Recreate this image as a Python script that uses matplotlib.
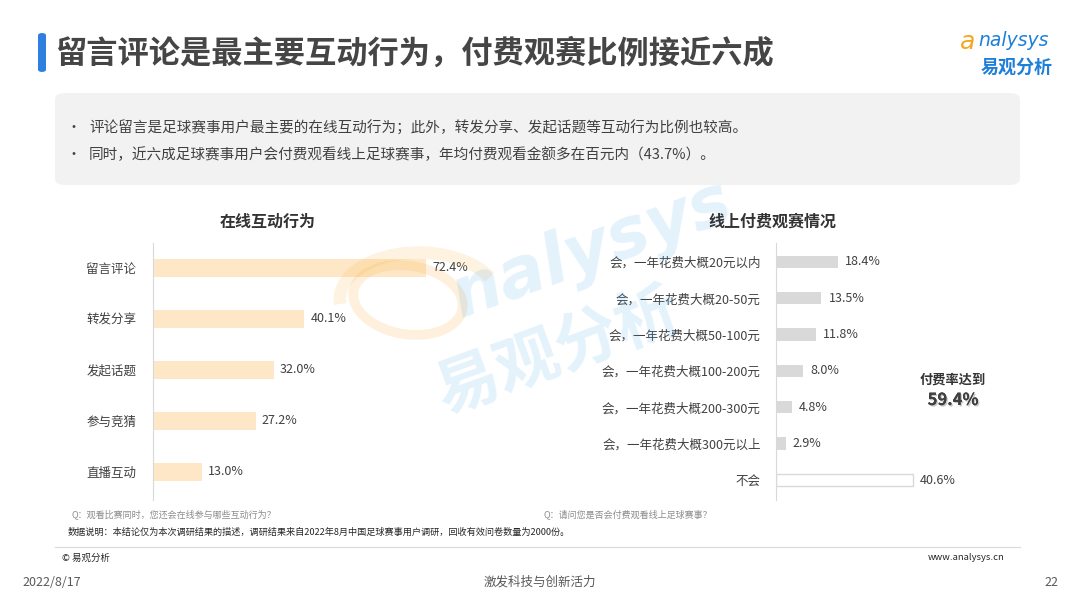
import matplotlib
matplotlib.use("Agg")
import matplotlib.pyplot as plt
from matplotlib.patches import FancyBboxPatch, Ellipse, Arc
import matplotlib.patheffects as pe

plt.rcParams['font.family'] = ['Noto Sans CJK SC', 'DejaVu Sans']

# ---------------- data ----------------
left_title = '在线互动行为'
left_cats = ['留言评论', '转发分享', '发起话题', '参与竞猜', '直播互动']
left_vals = [72.4, 40.1, 32.0, 27.2, 13.0]

right_title = '线上付费观赛情况'
right_cats = ['会，一年花费大概20元以内', '会，一年花费大概20-50元', '会，一年花费大概50-100元',
              '会，一年花费大概100-200元', '会，一年花费大概200-300元', '会，一年花费大概300元以上', '不会']
right_vals = [18.4, 13.5, 11.8, 8.0, 4.8, 2.9, 40.6]

title = '留言评论是最主要互动行为，付费观赛比例接近六成'
bullets = ['评论留言是足球赛事用户最主要的在线互动行为；此外，转发分享、发起话题等互动行为比例也较高。',
           '同时，近六成足球赛事用户会付费观看线上足球赛事，年均付费观看金额多在百元内（43.7%）。']
pay_rate_label = '付费率达到'
pay_rate = '59.4%'
q_left = 'Q：观看比赛同时，您还会在线参与哪些互动行为？'
q_right = 'Q：请问您是否会付费观看线上足球赛事？'
note = '数据说明：本结论仅为本次调研结果的描述，调研结果来自2022年8月中国足球赛事用户调研，回收有效问卷数量为2000份。'
footer_date = '2022/8/17'
footer_mid = '激发科技与创新活力'
footer_page = '22'

# ---------------- figure ----------------
W, H = 1080, 608
fig = plt.figure(figsize=(W / 100, H / 100), dpi=100)
fig.patch.set_facecolor('white')

def fx(x):
    return x / W

def fy(y):
    return 1 - y / H

def ftext(x, y, s, **kw):
    return fig.text(fx(x), fy(y), s, **kw)

# watermark (behind)
wm = dict(color='#4aa8e8', alpha=0.15, rotation=20, ha='center', va='center',
          fontweight='bold', zorder=0)
ftext(592, 250, 'nalysys', fontsize=50, family=['DejaVu Sans'], style='italic', **wm)
ftext(558, 352, '易观分析', fontsize=46, **wm)
ell = Ellipse((fx(408), fy(300)), width=fx(105), height=fy(0) - fy(72), angle=25,
              transform=fig.transFigure, fill=False, edgecolor='#fbb040', lw=7, alpha=0.18, zorder=0)
fig.patches.append(ell)
arc = Arc((fx(420), fy(300)), width=fx(160), height=fy(0) - fy(95), angle=10, theta1=20, theta2=175,
          transform=fig.transFigure, edgecolor='#fbb040', lw=9, alpha=0.16, zorder=0)
fig.patches.append(arc)

# title bar
bar = FancyBboxPatch((fx(38), fy(72)), fx(8), fy(33) - fy(72),
                     boxstyle='round,pad=0,rounding_size=0.004', transform=fig.transFigure,
                     facecolor='#2f7fe0', edgecolor='none')
fig.patches.append(bar)
ftext(55, 54, title, fontsize=22.5, fontweight='bold', color='#454545', va='center', ha='left')

# logo
ftext(968, 42, 'a', fontsize=18, color='#f5a623', family=['DejaVu Sans'], style='italic',
      va='center', ha='center')
ftext(978, 41, 'nalysys', fontsize=13.5, color='#1f7fd8', family=['DejaVu Sans'], style='italic',
      va='center', ha='left')
ftext(1017, 67, '易观分析', fontsize=13, color='#1f7fd8', fontweight='bold', va='center', ha='center')

# summary box
box = FancyBboxPatch((fx(55), fy(185)), fx(965), fy(93) - fy(185),
                     boxstyle='round,pad=0,rounding_size=0.01', transform=fig.transFigure,
                     facecolor='#f2f2f2', edgecolor='none')
fig.patches.append(box)
for i, b in enumerate(bullets):
    yy = 128 + i * 27
    ftext(66, yy, '•', fontsize=10, color='#404040', va='center', ha='left')
    ftext(89, yy, b, fontsize=10.5, color='#404040', va='center', ha='left')

# ---------------- left chart ----------------
axL = fig.add_axes([fx(153), fy(500), 80 * 3.77 / W, 257 / H])
axL.set_facecolor('none')
posL = list(range(len(left_cats)))
axL.barh(posL, left_vals, height=0.35, color='#fde7c7', edgecolor='none')
axL.set_xlim(0, 80)
axL.set_ylim(4.55, -0.49)
axL.set_yticks(posL)
axL.set_yticklabels(left_cats, fontsize=9, color='#404040')
axL.tick_params(axis='y', length=0, pad=12)
axL.set_xticks([])
for s in ['top', 'right', 'bottom']:
    axL.spines[s].set_visible(False)
axL.spines['left'].set_color('#d9d9d9')
for p, v in zip(posL, left_vals):
    axL.annotate(f'{v:.1f}%', (v, p), xytext=(4.5, 0), textcoords='offset points',
                 va='center', ha='left', fontsize=9, color='#404040')
ftext(268, 222, left_title, fontsize=11.5, fontweight='bold', color='#333333', ha='center', va='center')

# ---------------- right chart ----------------
axR = fig.add_axes([fx(776), fy(500), 60 * 3.37 / W, 257 / H])
axR.set_facecolor('none')
posR = list(range(len(right_cats)))
colorsR = ['#d9d9d9'] * (len(right_cats) - 1) + ['white']
edgesR = ['none'] * (len(right_cats) - 1) + ['#d9d9d9']
axR.barh(posR, right_vals, height=0.34, color=colorsR, edgecolor=edgesR, linewidth=1)
axR.set_xlim(0, 60)
axR.set_ylim(6.55, -0.52)
axR.set_yticks(posR)
axR.set_yticklabels(right_cats, fontsize=9, color='#404040')
axR.tick_params(axis='y', length=0, pad=11)
axR.set_xticks([])
for s in ['top', 'right', 'bottom']:
    axR.spines[s].set_visible(False)
axR.spines['left'].set_color('#d9d9d9')
for p, v in zip(posR, right_vals):
    axR.annotate(f'{v:.1f}%', (v, p), xytext=(5, 0), textcoords='offset points',
                 va='center', ha='left', fontsize=9, color='#404040')
ftext(772, 222, right_title, fontsize=11.5, fontweight='bold', color='#333333', ha='center', va='center')

ftext(953, 380, pay_rate_label, fontsize=9.5, fontweight='bold', color='#333333', ha='center', va='center')
ftext(953, 400, pay_rate, fontsize=12, fontweight='bold', color='#404040', ha='center', va='center',
      path_effects=[pe.withSimplePatchShadow(offset=(1, -1), shadow_rgbFace='#bbbbbb', alpha=0.8), pe.Normal()])

# ---------------- footnotes ----------------
ftext(72, 514, q_left, fontsize=6.5, color='#8c8c8c', style='italic', ha='left', va='center')
ftext(543, 514, q_right, fontsize=6.5, color='#8c8c8c', style='italic', ha='left', va='center')
ftext(68, 532, note, fontsize=6.6, color='#262626', ha='left', va='center')
fig.add_artist(plt.Line2D([fx(55), fx(1020)], [fy(547), fy(547)], color='#d9d9d9', lw=0.8,
                          transform=fig.transFigure))
ftext(62, 558, '© 易观分析', fontsize=6.8, color='#262626', ha='left', va='center')
ftext(1005, 558, 'www.analysys.cn', fontsize=6.8, color='#262626', ha='right', va='center')
ftext(22, 582, footer_date, fontsize=9, color='#595959', ha='left', va='center')
ftext(540, 582, footer_mid, fontsize=9, color='#595959', ha='center', va='center')
ftext(1058, 582, footer_page, fontsize=9, color='#595959', ha='right', va='center')

fig.savefig('out.png', dpi=100)
